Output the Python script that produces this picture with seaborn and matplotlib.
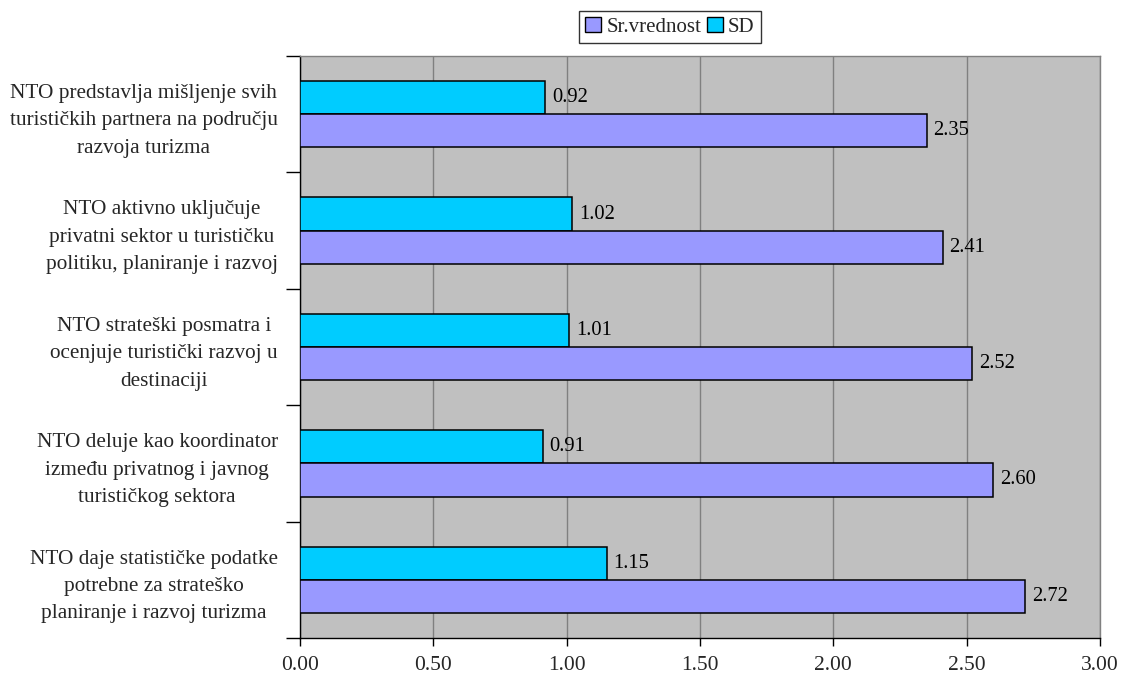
import matplotlib
matplotlib.use("Agg")
import matplotlib.pyplot as plt
import seaborn as sns
import pandas as pd
import numpy as np
from matplotlib.patches import Patch

categories = [
    "NTO predstavlja mišljenje svih\nturističkih partnera na području\nrazvoja turizma",
    "NTO aktivno uključuje\nprivatni sektor u turističku\npolitiku, planiranje i razvoj",
    "NTO strateški posmatra i\nocenjuje turistički razvoj u\ndestinaciji",
    "NTO deluje kao koordinator\nizmeđu privatnog i javnog\nturističkog sektora",
    "NTO daje statističke podatke\npotrebne za strateško\nplaniranje i razvoj turizma",
]
mean_values = [2.35, 2.41, 2.52, 2.60, 2.72]
sd_values = [0.92, 1.02, 1.01, 0.91, 1.15]
x_ticks = [0.0, 0.5, 1.0, 1.5, 2.0, 2.5, 3.0]

mean_name = "Sr.vrednost"
sd_name = "SD"
colors = {mean_name: "#9999FF", sd_name: "#00CCFF"}

df = pd.DataFrame({
    "kategorija": categories * 2,
    "serija": [sd_name] * len(categories) + [mean_name] * len(categories),
    "vrednost": sd_values + mean_values,
})

sns.set_theme(style="white")
plt.rcParams["font.family"] = ["Liberation Serif", "DejaVu Serif"]

fig = plt.figure(figsize=(11.21, 6.80), dpi=100)
ax = fig.add_axes([300 / 1121, 1 - 638 / 680, 800 / 1121, 582 / 680])
ax.set_facecolor("#C0C0C0")

sns.barplot(
    data=df, x="vrednost", y="kategorija", hue="serija",
    hue_order=[sd_name, mean_name], order=categories,
    palette=colors, orient="h", width=0.57, gap=0,
    edgecolor="black", linewidth=1.1, ax=ax, legend=False,
    saturation=1, zorder=3,
)

# value labels at bar ends
for cont in ax.containers:
    ax.bar_label(cont, fmt="%.2f", padding=5, fontsize=14.8, color="black")

ax.set_xlim(0, 3.0)
ax.set_ylim(len(categories) - 0.5, -0.5)
ax.set_xticks(x_ticks)
ax.set_xticklabels([f"{t:.2f}" for t in x_ticks], fontsize=15.5)
ax.xaxis.grid(True, color="#808080", linewidth=1.0, zorder=0)
ax.set_axisbelow(True)

# category labels centred in each band, tick marks on band boundaries
ax.set_yticks(np.arange(-0.5, len(categories), 1.0))
ax.set_yticklabels([])
ax.set_yticks(np.arange(len(categories)), minor=True)
ax.set_yticklabels(categories, minor=True, fontsize=15.3,
                   multialignment="center", linespacing=1.6)
ax.tick_params(axis="y", which="major", direction="out", length=10,
               width=1, color="black", left=True)
ax.tick_params(axis="y", which="minor", length=0, pad=16)
ax.tick_params(axis="x", direction="out", length=6, width=1,
               color="black", bottom=True, pad=7)

ax.set_xlabel("")
ax.set_ylabel("")

for side in ("left", "bottom"):
    ax.spines[side].set_color("black")
    ax.spines[side].set_linewidth(1.0)
for side in ("top", "right"):
    ax.spines[side].set_color("#808080")
    ax.spines[side].set_linewidth(1.0)

handles = [Patch(facecolor=colors[mean_name], edgecolor="black", linewidth=1),
           Patch(facecolor=colors[sd_name], edgecolor="black", linewidth=1)]
leg = fig.legend(handles, [mean_name, sd_name], loc="center",
                 bbox_to_anchor=(670 / 1121, 1 - 27 / 680), ncol=2,
                 frameon=True, fontsize=15, handlelength=0.75,
                 handleheight=0.75, handletextpad=0.25, columnspacing=0.3,
                 borderpad=0.3, fancybox=False, borderaxespad=0)
leg.get_frame().set_edgecolor("black")
leg.get_frame().set_linewidth(1.0)

fig.savefig("out.png", dpi=100, facecolor="white")
